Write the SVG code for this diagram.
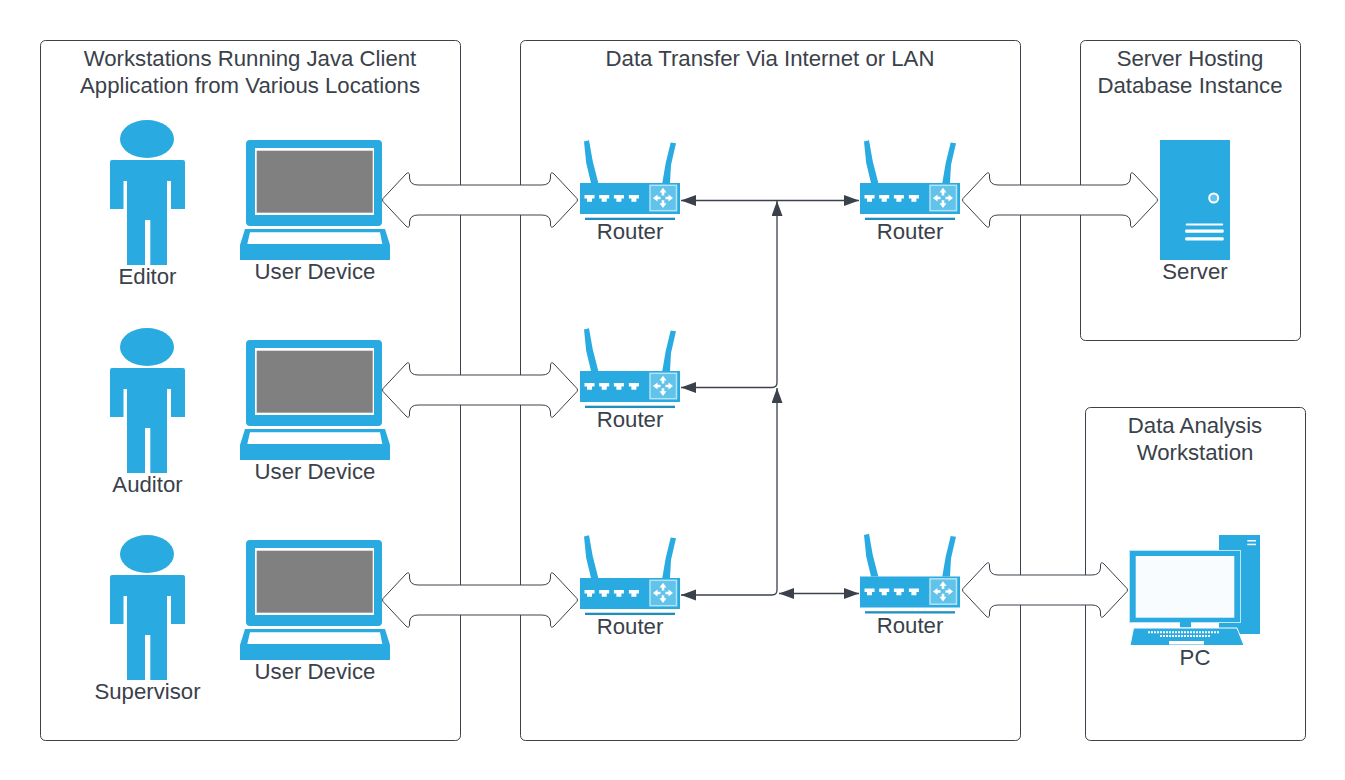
<svg xmlns="http://www.w3.org/2000/svg" width="1345" height="780" viewBox="0 0 1345 780">
<style>
text{font-family:"Liberation Sans",Arial,sans-serif;font-size:22.2px;fill:#3a414a;text-anchor:middle}
.frame{fill:#fff;stroke:#3a414a;stroke-width:1}
.b{fill:#29abe2}
.w{fill:#fff}
.dbl{fill:#fff;stroke:#3a414a;stroke-width:1;stroke-linejoin:round}
.con{fill:none;stroke:#3a414a;stroke-width:1.3}
</style>
<defs>
<marker id="ah" markerUnits="userSpaceOnUse" markerWidth="16" markerHeight="12" refX="15" refY="5.5" orient="auto-start-reverse"><path d="M0,0L15,5.5L0,11Z" fill="#3a414a"/></marker>
<path id="dbl196" class="dbl" d="M383,198.500l23,-24.500q3,-3 3.500,1v3q.5,7 8.500,7h124q8,0 8.500,-7v-3q.5,-4 3.500,-1l23,24.500q1,1.500 0,3l-23,24.500q-3,3 -3.500,-1v-3q-.5,-7 -8.500,-7h-124q-8,0 -8.500,7v3q-.5,4 -3.500,1l-23,-24.500q-1,-1.500 0,-3Z"/>
<path id="dbl166" class="dbl" d="M963,198.500l23,-24.500q3,-3 3.500,1v3q.5,7 8.500,7h94q8,0 8.500,-7v-3q.5,-4 3.500,-1l23,24.500q1,1.500 0,3l-23,24.500q-3,3 -3.500,-1v-3q-.5,-7 -8.500,-7h-94q-8,0 -8.500,7v3q-.5,4 -3.500,1l-23,-24.500q-1,-1.500 0,-3Z"/>
<g id="person">
<ellipse class="b" cx="147" cy="139" rx="27" ry="19"/>
<path class="b" d="M112,160H183Q185,160 185,162V209H171V181H167V265H150.300V220H145V265H127V181H123.500V209H110V162Q110,160 112,160Z"/>
</g>
<g id="laptop">
<rect class="b" x="246" y="140" width="136" height="86" rx="4"/>
<rect class="w" x="255" y="148" width="119" height="67"/>
<rect x="256.700" y="150.700" width="116" height="62" fill="#808080"/>
<path class="b" d="M245,229H385L390,245V260H240V245Z"/>
<path class="w" d="M250,232.300H380L382.300,244H247.300Z"/>
</g>
<g id="router">
<path class="b" d="M584,141.500L589,140.300L592.700,161L598.300,183H591L586.200,163Z"/>
<path class="b" d="M670.700,142.500L676,143.300L671,165L670,183H662.300L665.700,163Z"/>
<rect class="b" x="580" y="183" width="100" height="31"/>
<rect x="585" y="217.700" width="90" height="2.300" fill="#1f8fc0"/>
<g class="w">
<path id="pt" d="M584.500,195H594.500V198.500H592V201.700H587V198.500H584.500Z"/>
<use href="#pt" x="14.700"/><use href="#pt" x="29.400"/><use href="#pt" x="44.400"/>
</g>
<rect x="650" y="185.300" width="26.500" height="25.400" fill="#62c3ea" stroke="#b5e3f6" stroke-width="1.500"/>
<path class="w" d="M663,187.800L666.500,192.500H664.300V195.500H661.700V192.500H659.500ZM663,208L666.500,203.300H664.300V200.300H661.700V203.300H659.500ZM653,198L657.500,194.500V196.700H660.500V199.300H657.500V201.500ZM673,198L668.500,194.500V196.700H665.500V199.300H668.500V201.500Z"/>
</g>
</defs>

<g id="frames">
<rect id="frame-clients" class="frame" x="40.500" y="40.500" width="420" height="700" rx="5"/>
<rect id="frame-transfer" class="frame" x="520.500" y="40.500" width="500" height="700" rx="5"/>
<rect id="frame-server" class="frame" x="1080.500" y="40.500" width="220" height="300" rx="5"/>
<rect id="frame-analysis" class="frame" x="1085.500" y="407.500" width="220" height="333" rx="5"/>
<text x="250" y="66">Workstations Running Java Client</text>
<text x="250" y="93">Application from Various Locations</text>
<text x="770" y="66">Data Transfer Via Internet or LAN</text>
<text x="1190" y="66">Server Hosting</text>
<text x="1190" y="93">Database Instance</text>
<text x="1195" y="433">Data Analysis</text>
<text x="1195" y="460">Workstation</text>
</g>

<g id="connectors">
<use href="#dbl196"/>
<use href="#dbl196" y="190"/>
<use href="#dbl196" y="400"/>
<use href="#dbl196" x="580"/>
<use href="#dbl166" y="390"/>
<path class="con" d="M681,200.500H859" marker-start="url(#ah)" marker-end="url(#ah)"/>
<path class="con" d="M681,387.500H772Q777,387.500 777,382.500V201" marker-start="url(#ah)" marker-end="url(#ah)"/>
<path class="con" d="M681,595H772Q777,595 777,590V388" marker-start="url(#ah)" marker-end="url(#ah)"/>
<path class="con" d="M779,593.500H859" marker-start="url(#ah)" marker-end="url(#ah)"/>
</g>

<g id="person-editor"><use href="#person"/><text x="147.500" y="284">Editor</text></g>
<g id="person-auditor"><use href="#person" y="208"/><text x="147.500" y="492">Auditor</text></g>
<g id="person-supervisor"><use href="#person" y="415"/><text x="147.500" y="699">Supervisor</text></g>

<g id="laptop-1"><use href="#laptop"/><text x="315" y="279">User Device</text></g>
<g id="laptop-2"><use href="#laptop" y="200"/><text x="315" y="479">User Device</text></g>
<g id="laptop-3"><use href="#laptop" y="400"/><text x="315" y="679">User Device</text></g>

<g id="router-1"><use href="#router"/><text x="630" y="239">Router</text></g>
<g id="router-2"><use href="#router" x="280"/><text x="910" y="239">Router</text></g>
<g id="router-3"><use href="#router" y="188"/><text x="630" y="427">Router</text></g>
<g id="router-4"><use href="#router" y="395"/><text x="630" y="634">Router</text></g>
<g id="router-5"><use href="#router" x="280" y="393.500"/><text x="910" y="632.500">Router</text></g>

<g id="server">
<rect class="b" x="1160" y="140" width="70" height="120"/>
<circle cx="1213.700" cy="198" r="4.500" fill="#63c3ec" stroke="#fff" stroke-width="2"/>
<rect class="w" x="1185.700" y="223.500" width="37.500" height="2" rx="1"/>
<rect class="w" x="1185.200" y="229.500" width="38.500" height="3.200" rx="1"/>
<rect class="w" x="1185.200" y="237.200" width="38.500" height="3.200" rx="1"/>
<text x="1195" y="279">Server</text>
</g>

<g id="pc">
<rect class="b" x="1219" y="535" width="41" height="99"/>
<rect class="w" x="1247.300" y="540" width="8.700" height="1.500"/>
<rect class="w" x="1247.300" y="543.700" width="8.700" height="1.500"/>
<rect class="b" x="1129.500" y="550.500" width="111" height="72" stroke="#bfe6f6" stroke-width="1"/>
<rect x="1135.700" y="556" width="98.600" height="61.700" fill="#f9fcff"/>
<rect class="b" x="1180" y="622" width="11" height="5.500"/>
<path class="b" d="M1133.500,628H1237L1244,645.500H1130Z" stroke="#fff" stroke-width="1"/>
<path d="M1148,632.300H1220M1160,636H1210" stroke="#fff" stroke-width="2" stroke-dasharray="2 1"/>
<rect class="w" x="1169" y="641" width="35" height="3.500"/>
<text x="1195" y="665">PC</text>
</g>
</svg>
